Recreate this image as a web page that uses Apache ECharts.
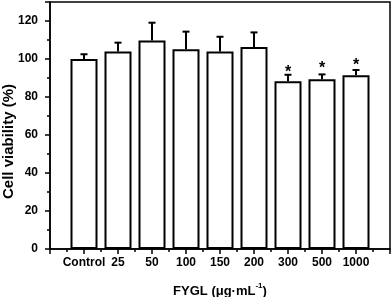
<!DOCTYPE html>
<html>
<head>
<meta charset="utf-8">
<script src="https://cdn.jsdelivr.net/npm/echarts@6/dist/echarts.min.js"></script>
<style>html,body{margin:0;padding:0;background:#fff;}#c{width:392px;height:297px;}</style>
</head>
<body>
<div id="c"></div>
<script>
var categories = ['Control', '25', '50', '100', '150', '200', '300', '500', '1000'];
var viability = [100, 103.9, 109.7, 105.1, 104.0, 106.3, 88.3, 89.3, 91.4];
var errorUp = [2.5, 4.7, 9.4, 9.3, 7.7, 7.7, 3.4, 2.6, 2.8];
var sigCategories = ['300', '500', '1000'];
var sigMarkY = [95.0, 97.3, 98.6];
var yTicks = [0, 20, 40, 60, 80, 100, 120];

var chart = echarts.init(document.getElementById('c'), null, {renderer: 'canvas'});
var FONT = '"Liberation Sans", Arial, sans-serif';

var barData = categories.map(function (c, i) { return [i + 1, viability[i]]; });
var errData = categories.map(function (c, i) { return [i + 1, viability[i], viability[i] + errorUp[i]]; });
var sigData = sigCategories.map(function (c, i) { return [categories.indexOf(c) + 1, sigMarkY[i]]; });

chart.setOption({
  animation: false,
  backgroundColor: '#fff',
  grid: {left: 50, right: 2, top: 2, bottom: 48, show: true, borderColor: '#000', borderWidth: 1.5, backgroundColor: 'transparent', containLabel: false, outerBoundsMode: 'none'},
  xAxis: {
    type: 'value', min: 0, max: categories.length + 1, interval: 1,
    axisLine: {onZero: false, lineStyle: {color: '#000', width: 1.5}},
    axisTick: {show: true, inside: false, length: 5, lineStyle: {color: '#000', width: 1.5}},
    minorTick: {show: true, splitNumber: 2, length: 3, lineStyle: {color: '#000', width: 1.5}},
    splitLine: {show: false},
    axisLabel: {
      color: '#000', fontFamily: FONT, fontWeight: 'bold', fontSize: 12, margin: 8,
      formatter: function (v) { var i = Math.round(v) - 1; return (i >= 0 && i < categories.length) ? categories[i] : ''; }
    },
    name: '{t|FYGL (μg·mL}{s|-1}{t|)}',
    nameLocation: 'middle', nameGap: 33, nameMoveOverlap: false,
    nameTextStyle: {rich: {
      t: {fontFamily: FONT, fontWeight: 'bold', fontSize: 13, color: '#000', verticalAlign: 'bottom', lineHeight: 16},
      s: {fontFamily: FONT, fontWeight: 'bold', fontSize: 8, color: '#000', verticalAlign: 'top', lineHeight: 16, padding: [0, 0, 8, 0]}
    }}
  },
  yAxis: {
    type: 'value', min: 0, max: 130, interval: 20,
    axisLine: {show: true, lineStyle: {color: '#000', width: 1.5}},
    axisTick: {show: true, inside: false, length: 5, lineStyle: {color: '#000', width: 1.5}},
    minorTick: {show: true, splitNumber: 2, length: 3, lineStyle: {color: '#000', width: 1.5}},
    splitLine: {show: false},
    axisLabel: {
      color: '#000', fontFamily: FONT, fontWeight: 'bold', fontSize: 12, margin: 12,
      formatter: function (v) { return yTicks.indexOf(v) >= 0 ? String(v) : ''; }
    },
    name: 'Cell viability (%)', nameLocation: 'middle', nameGap: 34, nameRotate: 90, nameMoveOverlap: false,
    nameTextStyle: {fontFamily: FONT, fontWeight: 'bold', fontSize: 15, color: '#000', padding: [0, 32, 0, 0]}
  },
  series: [
    {
      type: 'bar', data: barData, barWidth: 27,
      itemStyle: {color: '#fff', borderColor: '#000', borderWidth: 2},
      z: 2
    },
    {
      type: 'custom', data: errData, z: 3,
      renderItem: function (params, api) {
        var x = api.value(0);
        var p0 = api.coord([x, api.value(1)]);
        var p1 = api.coord([x, api.value(2)]);
        var hw = 3.5;
        return {type: 'group', children: [
          {type: 'line', shape: {x1: p0[0], y1: p0[1], x2: p1[0], y2: p1[1]}, style: {stroke: '#000', lineWidth: 2}},
          {type: 'line', shape: {x1: p1[0] - hw, y1: p1[1], x2: p1[0] + hw, y2: p1[1]}, style: {stroke: '#000', lineWidth: 2}}
        ]};
      }
    },
    {
      type: 'custom', data: sigData, z: 4,
      renderItem: function (params, api) {
        var p = api.coord([api.value(0), api.value(1)]);
        return {type: 'text', x: p[0], y: p[1] + 4, style: {
          text: '*', fontFamily: FONT, fontWeight: 'bold', fontSize: 16, fill: '#000',
          align: 'center', verticalAlign: 'middle'
        }};
      }
    }
  ]
});
</script>
</body>
</html>
